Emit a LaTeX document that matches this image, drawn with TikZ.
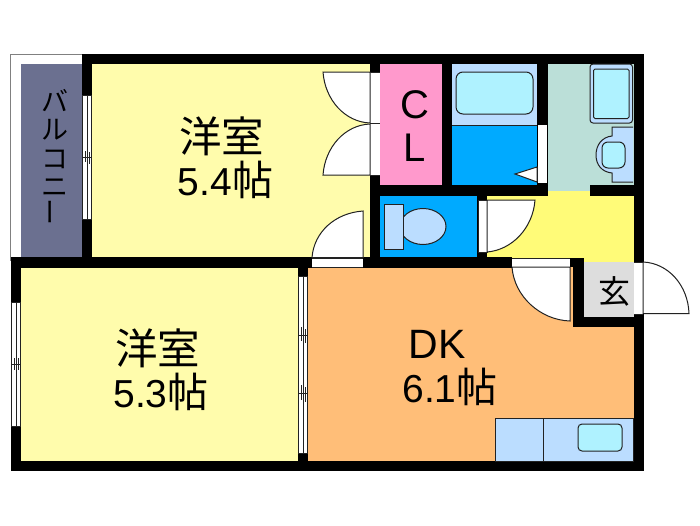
\documentclass[tikz,border=0pt]{standalone}
\usepackage{fontspec}
\setmainfont{Liberation Sans}
\newfontfamily\cjk{Noto Sans CJK JP}
\definecolor{roomyel}{HTML}{FFFCAC}
\definecolor{hallyel}{HTML}{FFFB78}
\definecolor{dkor}{HTML}{FFBE78}
\definecolor{clpink}{HTML}{FF99CC}
\definecolor{bathblue}{HTML}{00AAFF}
\definecolor{ltblue}{HTML}{BBDDFF}
\definecolor{tubblue}{HTML}{AFF2FF}
\definecolor{balc}{HTML}{6B7090}
\definecolor{washteal}{HTML}{BBDFD8}
\definecolor{entgrey}{HTML}{DDDDDD}
\definecolor{ink}{HTML}{222222}
\tikzset{
  wall/.style={fill=black,draw=none},
  room/.style={draw=none},
  win/.style={fill=white,draw=ink,line width=0.6pt},
  door/.style={fill=white,draw=ink,line width=1pt},
  fixture/.style={draw=ink,line width=1pt},
  label/.style={inner sep=0pt,align=center,text=black},
}
\newcommand{\fs}[1]{\fontsize{#1}{#1}\selectfont}
\newcommand{\cho}{{\cjk\fs{41}帖}}
\begin{document}
\begin{tikzpicture}[x=1pt,y=-1pt]
\useasboundingbox (0,0) rectangle (700,525);
% balcony
\draw[draw=gray,fill=white,line width=0.5pt] (10.5,54) rectangle (83,260);
\fill[balc] (21,64) rectangle (82,257);
% room fills
\fill[roomyel] (92,64) rectangle (370,257);
\fill[roomyel] (21,267) rectangle (298,461);
\fill[dkor] (308,267) rectangle (634,461);
\fill[clpink] (380,64) rectangle (442,185);
\fill[ltblue] (452,64) rectangle (537,125);
\fill[bathblue] (452,125) rectangle (537,185);
\fill[bathblue] (380,196) rectangle (477,257);
\fill[washteal] (548,64) rectangle (634,191);
\fill[hallyel] (487,196) rectangle (634,258);
\fill[hallyel] (548,191) rectangle (590,196);
\fill[hallyel] (584,258) rectangle (634,262);
\fill[entgrey] (584,262) rectangle (634,317);
% walls
\fill[wall] (82,54) rectangle (644,64);
\fill[wall] (82,54) rectangle (92,268);
\fill[wall] (11,257) rectangle (512,267.5);
\fill[wall] (11,257) rectangle (21,471);
\fill[wall] (11,461) rectangle (644,471);
\fill[wall] (298,257) rectangle (308,471);
\fill[wall] (370,54) rectangle (380,267);
\fill[wall] (442,54) rectangle (452,196);
\fill[wall] (370,185) rectangle (548,196);
\fill[wall] (537,54) rectangle (548,196);
\fill[wall] (590,185) rectangle (644,196);
\fill[wall] (634,54) rectangle (644,471);
\fill[wall] (477,196) rectangle (487,267);
\fill[wall] (570,258) rectangle (584,267);
\fill[wall] (573,258) rectangle (584,327);
\fill[wall] (573,317) rectangle (644,327);
% windows
\draw[win] (82.5,95) rectangle (91.5,219);
\draw[ink,line width=0.4pt] (87,95) -- (87,219);
\draw[ink,line width=0.5pt] (83,157) -- (91,157) (85,151) -- (85,162) (89,152) -- (89,164);
\draw[win] (11.5,302) rectangle (20.5,426);
\draw[ink,line width=0.4pt] (16,302) -- (16,426);
\draw[ink,line width=0.5pt] (12,364) -- (20,364) (14,358) -- (14,370) (18,358) -- (18,370);
\draw[win] (298.5,276) rectangle (307.5,453);
\draw[ink,line width=0.4pt] (303,276) -- (303,453);
\draw[ink,line width=0.5pt] (299,335) -- (307,335) (301,327) -- (301,341) (305,329) -- (305,343)
  (299,393) -- (307,393) (301,385) -- (301,400) (305,387) -- (305,402);
% door openings
\fill[white] (370,72) rectangle (380,175);
\draw[ink,line width=0.6pt] (370,72) -- (380,72) (370,123.5) -- (380,123.5) (370,175) -- (380,175);
\fill[white] (312,258) rectangle (363,267);
\draw[ink,line width=0.6pt] (312,258) -- (363,258) (312,267) -- (363,267);
\fill[white] (478,200) rectangle (487,252);
\draw[ink,line width=0.6pt] (478,200) rectangle (487,252);
\fill[white] (538,125) rectangle (547,183);
\fill[white] (512,258) rectangle (570,267);
\draw[ink,line width=0.6pt] (512,258) -- (570,258);
\fill[white] (634,262) rectangle (643,314);
\draw[ink,line width=0.6pt] (634,262) -- (643,262) (634,314) -- (643,314);
% door leaves
\draw[door] (370,72) -- (323,72) .. controls (325,100) and (345,122) .. (370,123) -- cycle;
\draw[door] (370,175) -- (323,175) .. controls (325,147) and (345,125) .. (370,124) -- cycle;
\draw[door] (363,257.5) -- (363,211) .. controls (335,213) and (314,232) .. (312,257.5) -- cycle;
\draw[door] (487,200) -- (535,200) .. controls (533,228) and (512,250) .. (487,252) -- cycle;
\draw[door] (570,267) -- (512,267) .. controls (514,296) and (540,320) .. (570,321) -- cycle;
\draw[door] (643,262) .. controls (668,263) and (688,285) .. (689,313.5) -- (643,313.5) -- cycle;
\draw[door] (515,174) -- (537,167) -- (537,182) -- cycle;
% toilet
\draw[fixture,fill=ltblue] (423,226.5) ellipse [x radius=23,y radius=18];
\draw[fixture,fill=ltblue] (384,204) rectangle (403,249);
% bath
\draw[fixture,fill=tubblue,rounded corners=7pt] (456,72) rectangle (533,114);
\draw[ink,line width=0.8pt] (452,125) -- (537,125);
% washer
\draw[fixture,fill=ltblue,rounded corners=3pt] (590,64) rectangle (632.5,123);
\draw[fixture,fill=tubblue,rounded corners=1.5pt] (593.5,69) rectangle (629,118.5);
% vanity
\draw[fixture,fill=ltblue] (633,127) -- (612,127) -- (612,136) .. controls (602,137) and (596,145) .. (596,155)
  .. controls (596,165) and (602,172) .. (612,173) -- (612,182) -- (633,182);
\draw[fixture,fill=tubblue,rounded corners=6pt] (602,142) rectangle (625,168);
% kitchen
\draw[fixture,fill=ltblue,line width=0.8pt] (495,461) -- (495,418) -- (633.5,418) -- (633.5,461) -- cycle;
\draw[ink,line width=1pt] (543,418) -- (543,461);
\draw[fixture,fill=tubblue,rounded corners=4pt] (578,424) rectangle (622,451);
% labels
\node[label,font=\cjk\fontsize{27}{28.5}\selectfont] (balconylabel) at (55,157) {バ\\ル\\コ\\ニ\\\rotatebox{90}{ー}};
\node[label,font=\cjk\fs{42.5}] (room1a) at (221.5,136) {洋室};
\node[label,font=\fs{39}] (room1b) at (225.5,180) {5.4\cho};
\node[label,font=\cjk\fs{42.5}] (room2a) at (157.5,348) {洋室};
\node[label,font=\fs{39}] (room2b) at (161,392) {5.3\cho};
\node[label,font=\fs{41}] (dka) at (437,344) {DK};
\node[label,font=\fs{39}] (dkb) at (450,387) {6.1\cho};
\node[label,font=\fs{40}] (cl1) at (414.5,105) {C};
\node[label,font=\fs{40}] (cl2) at (414.5,148) {L};
\node[label,font=\cjk\fs{32}] (genkan) at (614,291) {玄};
\end{tikzpicture}
\end{document}
